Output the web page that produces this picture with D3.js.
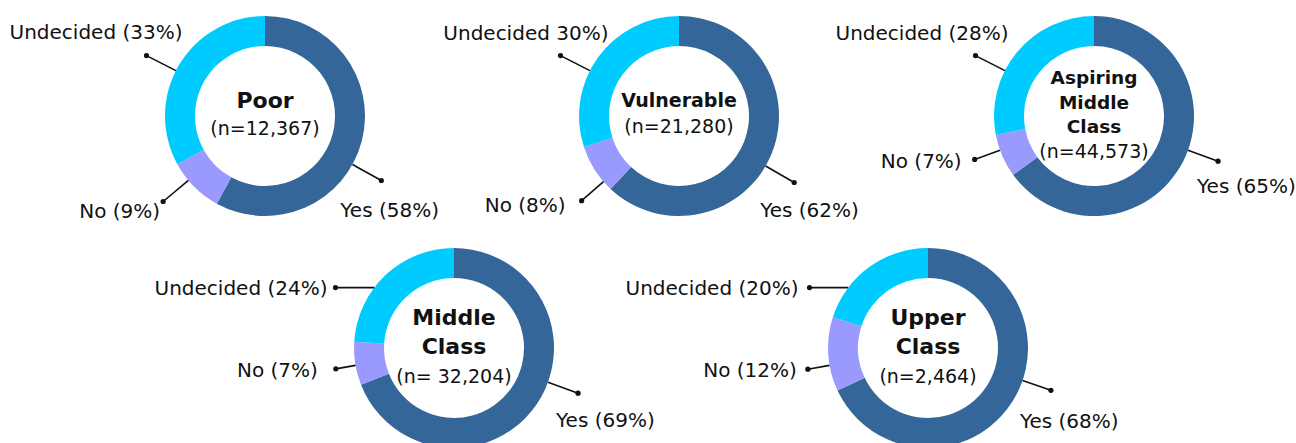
<!DOCTYPE html>
<html>
<head>
<meta charset="utf-8">
<script src="https://cdn.jsdelivr.net/npm/d3@7"></script>
<style>
  body { margin: 0; background: #fff; }
  svg { display: block; }
  text { font-family: "DejaVu Sans", sans-serif; fill: #111; }
</style>
</head>
<body>
<svg></svg>
<script>
// data
var groups = ["Poor", "Vulnerable", "Aspiring Middle Class", "Middle Class", "Upper Class"];
var titleLines = [["Poor"], ["Vulnerable"], ["Aspiring", "Middle", "Class"], ["Middle", "Class"], ["Upper", "Class"]];
var sampleLabels = ["(n=12,367)", "(n=21,280)", "(n=44,573)", "(n= 32,204)", "(n=2,464)"];
var answers = ["Yes", "No", "Undecided"];
var yesPct = [58, 62, 65, 69, 68];
var noPct = [9, 8, 7, 7, 12];
var undecidedPct = [33, 30, 28, 24, 20];

var width = 1296, height = 443;
var outerR = 100, innerR = 70;

// layout for each donut: centre, title size, first baseline, line height
var layout = [
  { cx: 265, cy: 116, size: 22, first: -8, lh: 27 },
  { cx: 679, cy: 116, size: 19, first: -9, lh: 26 },
  { cx: 1094, cy: 116, size: 18.5, first: -32, lh: 24.7 },
  { cx: 454, cy: 348, size: 22, first: -23, lh: 29 },
  { cx: 928, cy: 348, size: 22, first: -23, lh: 29 }
];

// leader dots (angle in degrees clockwise from top, radius) and label offsets from the dot
var leaders = [
  { Yes: [119, 133, -41, 37, "start"], No: [230, 133, -3, 17, "end"], Undecided: [297, 133, 36, -17, "end"] },
  { Yes: [120, 133, -34, 34, "start"], No: [229, 129, -16, 11, "end"], Undecided: [297, 133, 48, -16, "end"] },
  { Yes: [110, 132, -21, 32, "start"], No: [250, 127, -13, 9, "end"], Undecided: [297, 133, 33, -16, "end"] },
  { Yes: [110, 132, -22, 34, "start"], No: [260, 120, -18, 8, "end"], Undecided: [297, 133, -8, 7, "end", true] },
  { Yes: [109, 130, -31, 38, "start"], No: [260, 122, -11, 8, "end"], Undecided: [297, 133, -11, 7, "end", true] }
];

var color = d3.scaleOrdinal()
  .domain(answers)
  .range(["#346699", "#9a9afe", "#00cbfe"]);

var svg = d3.select("svg")
  .attr("width", width)
  .attr("height", height);

svg.append("rect")
  .attr("width", width)
  .attr("height", height)
  .attr("fill", "#fff");

var pie = d3.pie()
  .sort(null)
  .value(function(d) { return d.value; });

var arc = d3.arc()
  .innerRadius(innerR)
  .outerRadius(outerR);

function polar(deg, r) {
  var a = deg * Math.PI / 180;
  return [Math.sin(a) * r, -Math.cos(a) * r];
}

function labelText(answer, pct, i) {
  // the source graphic drops the opening bracket on one label
  if (i === 1 && answer === "Undecided") return answer + " " + pct + "%)";
  return answer + " (" + pct + "%)";
}

groups.forEach(function(name, i) {
  var L = layout[i];
  var values = [yesPct[i], noPct[i], undecidedPct[i]].map(function(v, k) {
    return { answer: answers[k], value: v };
  });

  var g = svg.append("g")
    .attr("class", "donut")
    .attr("transform", "translate(" + L.cx + "," + L.cy + ")");

  g.selectAll("path")
    .data(pie(values))
    .enter().append("path")
    .attr("d", arc)
    .attr("fill", function(d) { return color(d.data.answer); });

  // leaders
  var lead = g.append("g").attr("class", "leaders");
  values.forEach(function(d) {
    var spec = leaders[i][d.answer];
    var dot = polar(spec[0], spec[1]);
    var start;
    if (spec[5]) {
      // horizontal leader to the ring edge
      start = [-Math.sqrt(outerR * outerR - dot[1] * dot[1]), dot[1]];
    } else {
      start = polar(spec[0], outerR);
    }
    lead.append("line")
      .attr("x1", start[0]).attr("y1", start[1])
      .attr("x2", dot[0]).attr("y2", dot[1])
      .attr("stroke", "#111")
      .attr("stroke-width", 1.6);
    lead.append("circle")
      .attr("cx", dot[0]).attr("cy", dot[1])
      .attr("r", 2.6)
      .attr("fill", "#111");
    lead.append("text")
      .attr("x", dot[0] + spec[2])
      .attr("y", dot[1] + spec[3])
      .attr("text-anchor", spec[4])
      .style("font-size", "20px")
      .text(labelText(d.answer, d.value, i));
  });

  // centre text
  var lines = titleLines[i];
  lines.forEach(function(t, k) {
    g.append("text")
      .attr("x", 0)
      .attr("y", L.first + k * L.lh)
      .attr("text-anchor", "middle")
      .style("font-size", L.size + "px")
      .style("font-weight", "bold")
      .text(t);
  });
  g.append("text")
    .attr("x", 0)
    .attr("y", L.first + lines.length * L.lh)
    .attr("text-anchor", "middle")
    .style("font-size", "19px")
    .text(sampleLabels[i]);
});
</script>
</body>
</html>
